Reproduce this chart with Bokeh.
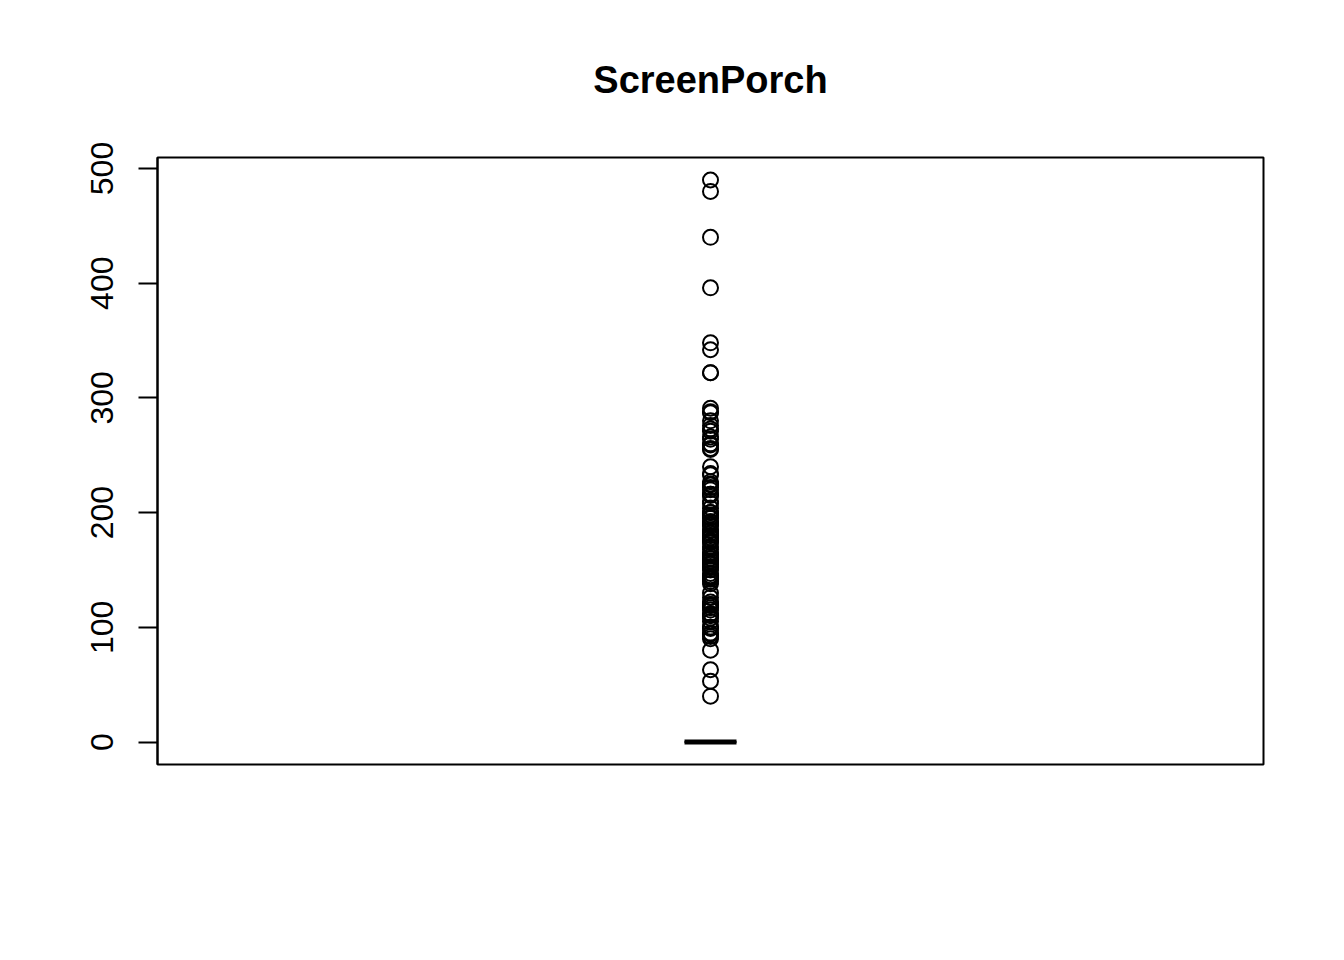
import numpy as np
from bokeh.plotting import figure
from bokeh.models import Range1d, FixedTicker
from bokeh.embed import file_html
from bokeh.resources import INLINE

# ---- data ----
title_text = "ScreenPorch"
zero_count = 1344
nonzero_values = [
    490, 480, 440, 396, 348, 342, 322, 322,
    291, 288, 287, 280, 276, 273, 271, 266, 264, 260, 259, 256, 255,
    240, 234, 233, 227, 225, 224, 222, 220, 216, 216, 215, 210, 208, 204,
    200, 200, 198, 196, 195, 192, 192, 190, 189, 189, 185, 184, 182, 180,
    180, 178, 176, 175, 174, 170, 168, 165, 164, 162, 160, 160, 158, 156,
    155, 153, 152, 150, 147, 145, 144, 144, 143, 142, 140, 138, 130, 126,
    122, 120, 120, 119, 117, 115, 112, 111, 110, 108, 105, 100, 100, 99,
    95, 94, 92, 90, 80, 63, 53, 40,
]
y_ticks = [0, 100, 200, 300, 400, 500]

values = np.array([0] * zero_count + nonzero_values, dtype=float)

# boxplot statistics
q1, med, q3 = np.percentile(values, [25, 50, 75])
iqr = q3 - q1
lo_fence, hi_fence = q1 - 1.5 * iqr, q3 + 1.5 * iqr
inside = values[(values >= lo_fence) & (values <= hi_fence)]
w_lo, w_hi = inside.min(), inside.max()
outliers = values[(values < lo_fence) | (values > hi_fence)]

xc = 1.0
half_w = 0.0235
ymin, ymax = values.min(), values.max()
pad = 0.04 * (ymax - ymin)

p = figure(width=1344, height=960, output_backend="svg", toolbar_location=None,
           x_range=Range1d(0.5, 1.5), y_range=Range1d(ymin - pad, ymax + pad),
           min_border_left=157, min_border_right=81, min_border_top=157,
           min_border_bottom=196, background_fill_color="white",
           border_fill_color="white")

p.title.text = title_text
p.title.align = "center"
p.title.text_font = "Liberation Sans"
p.title.text_font_style = "bold"
p.title.text_font_size = "38px"
p.title.text_color = "black"
p.title.standoff = 113

p.xaxis.visible = False
p.xgrid.visible = False
p.ygrid.visible = False
p.outline_line_color = "black"
p.outline_line_width = 2

ya = p.yaxis[0]
ya.ticker = FixedTicker(ticks=y_ticks)
ya.major_tick_out = 19
ya.major_tick_in = 0
ya.minor_tick_line_color = None
ya.major_tick_line_width = 2
ya.axis_line_width = 2
ya.major_label_orientation = "vertical"
ya.major_label_text_font = "Liberation Sans"
ya.major_label_text_font_size = "32px"
ya.major_label_text_color = "black"
ya.major_label_standoff = 25

# box (degenerate), whiskers, median
p.quad(left=[xc - half_w], right=[xc + half_w], bottom=[q1], top=[q3],
       fill_color=None, line_color="black", line_width=2)
p.segment(x0=[xc, xc], y0=[q3, q1], x1=[xc, xc], y1=[w_hi, w_lo],
          line_color="black", line_width=2, line_dash="6 4")
p.segment(x0=[xc - half_w / 2] * 2, y0=[w_hi, w_lo], x1=[xc + half_w / 2] * 2,
          y1=[w_hi, w_lo], line_color="black", line_width=2)
p.segment(x0=[xc - half_w], y0=[med], x1=[xc + half_w], y1=[med],
          line_color="black", line_width=5)

p.scatter(x=[xc] * len(outliers), y=outliers, marker="circle", size=15,
          fill_color=None, line_color="black", line_width=2)

open("out.html", "w").write(file_html(p, INLINE))
